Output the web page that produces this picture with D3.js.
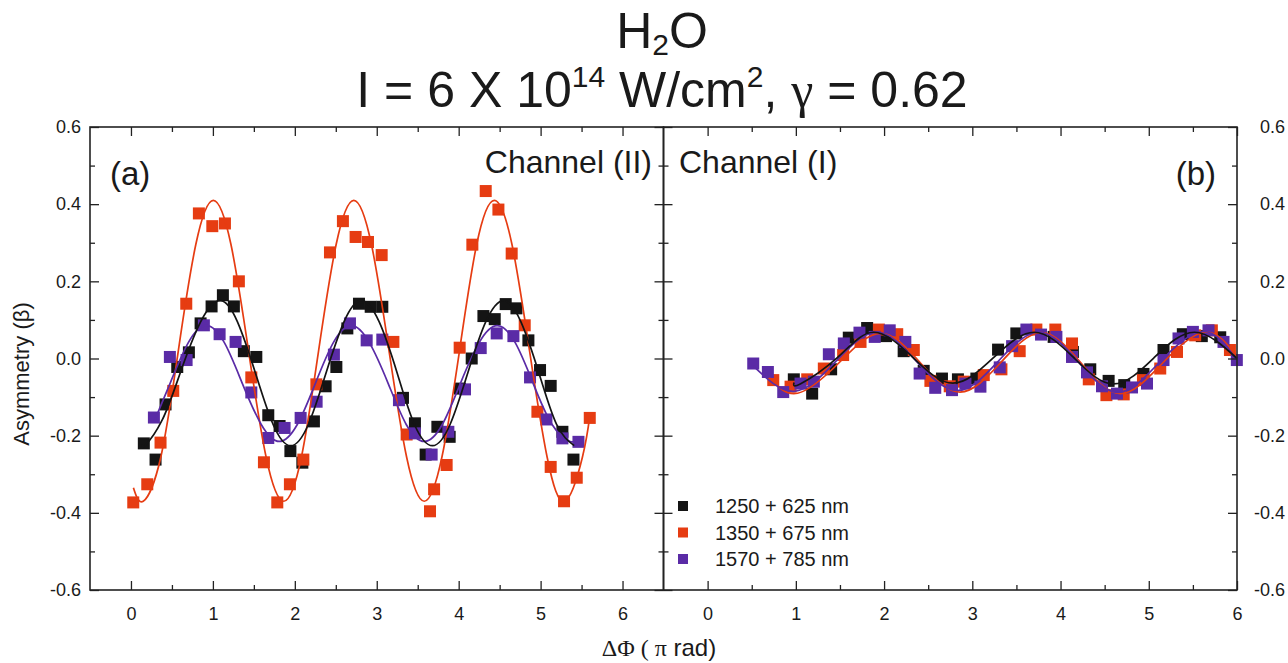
<!DOCTYPE html>
<html><head><meta charset="utf-8">
<script src="https://cdn.jsdelivr.net/npm/d3@7"></script>
<style>
body{margin:0;background:#fff}
svg{display:block}
text{font-family:"Liberation Sans",Arial,sans-serif;fill:#1a1a1a}
</style>
</head><body>
<svg id="c" width="1288" height="663"></svg>
<script>
// ---------- tick values ----------
const yMajor = [-0.6,-0.4,-0.2,0.0,0.2,0.4,0.6];
const yMinor = [-0.5,-0.3,-0.1,0.1,0.3,0.5];
const xMajor = [0,1,2,3,4,5,6];
const xMinor = [0.5,1.5,2.5,3.5,4.5,5.5];

// ---------- series names / colours ----------
const seriesNames = ["1250 + 625 nm","1350 + 675 nm","1570 + 785 nm"];
const seriesColors = ["#141414","#e63c12","#5a2ba6"];

// ---------- panel (a) Channel (II) : data ----------
const aBlackX = [0.157,0.300,0.422,0.565,0.707,0.850,0.984,1.122,1.256,1.378,1.530,1.676,1.814,1.946,2.092,2.233,2.376,2.507,2.641,2.783,2.926,3.068,3.320,3.466,3.597,3.740,3.890,4.016,4.159,4.302,4.440,4.574,4.705,4.851,4.993,5.123,5.266,5.401];
const aBlackY = [-0.220,-0.262,-0.119,-0.022,0.016,0.091,0.135,0.164,0.135,0.019,0.004,-0.147,-0.175,-0.240,-0.270,-0.163,-0.072,-0.022,0.078,0.142,0.134,0.134,-0.102,-0.168,-0.249,-0.177,-0.203,-0.078,0.000,0.110,0.102,0.141,0.130,0.047,-0.030,-0.071,-0.190,-0.262];
const aRedX = [0.028,0.199,0.361,0.516,0.675,0.829,0.993,1.147,1.317,1.469,1.623,1.786,1.940,2.104,2.263,2.429,2.587,2.742,2.893,3.060,3.203,3.365,3.650,3.700,3.853,4.012,4.167,4.330,4.485,4.647,4.806,4.961,5.123,5.286,5.441,5.600];
const aRedY = [-0.373,-0.326,-0.218,-0.084,0.142,0.376,0.343,0.350,0.200,-0.049,-0.269,-0.373,-0.326,-0.262,-0.067,0.275,0.356,0.315,0.302,0.268,0.043,-0.197,-0.396,-0.339,-0.276,0.028,0.295,0.434,0.386,0.272,0.086,-0.138,-0.281,-0.370,-0.309,-0.154];
const aPurpleX = [0.280,0.475,0.679,0.890,1.082,1.277,1.469,1.676,1.875,2.071,2.266,2.477,2.673,2.877,3.068,3.271,3.466,3.670,3.874,4.077,4.269,4.464,4.668,4.871,5.071,5.266,5.462];
const aPurpleY = [-0.153,0.004,-0.004,0.086,0.063,0.043,-0.088,-0.206,-0.180,-0.154,-0.112,0.010,0.091,0.047,0.049,-0.108,-0.194,-0.249,-0.190,-0.080,0.027,0.065,0.058,-0.049,-0.158,-0.207,-0.216];

// ---------- panel (a) : fitted curves ----------
const aBlackFitX = [0.14,0.17,0.38,0.60,0.85,1.09,1.30,1.52,1.735,1.95,2.165,2.38,2.60,2.81,3.03,3.25,3.46,3.68,3.895,4.11,4.33,4.55,4.76,4.98,5.195,5.41];
const aBlackFitY = [-0.222,-0.226,-0.160,-0.038,0.095,0.150,0.095,-0.038,-0.171,-0.226,-0.171,-0.038,0.095,0.150,0.095,-0.038,-0.171,-0.226,-0.171,-0.038,0.095,0.150,0.095,-0.038,-0.171,-0.226];
const aRedFitX = [0.03,0.15,0.364,0.578,0.792,1.005,1.22,1.435,1.65,1.865,2.08,2.29,2.505,2.72,2.935,3.15,3.365,3.58,3.795,4.01,4.22,4.435,4.65,4.865,5.08,5.295,5.51,5.60];
const aRedFitY = [-0.335,-0.370,-0.256,0.020,0.296,0.410,0.296,0.020,-0.256,-0.370,-0.256,0.020,0.296,0.410,0.296,0.020,-0.256,-0.370,-0.256,0.020,0.296,0.410,0.296,0.020,-0.256,-0.370,-0.256,-0.150];
const aPurpleFitX = [0.28,0.48,0.70,0.92,1.14,1.36,1.59,1.81,2.03,2.25,2.47,2.69,2.91,3.14,3.36,3.58,3.80,4.02,4.25,4.47,4.69,4.91,5.14,5.36,5.46];
const aPurpleFitY = [-0.165,-0.063,0.041,0.085,0.041,-0.065,-0.171,-0.215,-0.171,-0.065,0.041,0.085,0.041,-0.065,-0.171,-0.215,-0.171,-0.065,0.041,0.085,0.041,-0.065,-0.171,-0.215,-0.208];

// ---------- panel (b) Channel (I) : data ----------
const bBlackX = [0.977,1.185,1.400,1.600,1.808,2.023,2.222,2.449,2.656,2.837,3.046,3.292,3.499,3.922,4.140,4.337,4.545,4.722,4.940,5.167,5.386,5.601,5.810];
const bBlackY = [-0.054,-0.091,-0.028,0.054,0.079,0.058,0.019,-0.032,-0.052,-0.054,-0.052,0.023,0.065,0.056,0.017,-0.028,-0.058,-0.069,-0.040,0.022,0.063,0.058,0.055];
const bRedX = [0.744,0.940,1.129,1.317,1.536,1.733,1.941,2.149,2.337,2.525,2.744,2.903,3.130,3.330,3.537,3.726,3.941,4.130,4.320,4.520,4.716,4.934,5.130,5.320,5.526,5.715,5.920];
const bRedY = [-0.056,-0.073,-0.054,-0.026,0.009,0.043,0.075,0.063,0.022,-0.058,-0.072,-0.060,-0.043,-0.028,0.019,0.075,0.075,0.039,-0.054,-0.095,-0.093,-0.056,-0.026,0.017,0.060,0.073,0.022];
const bPurpleX = [0.517,0.683,0.857,1.053,1.204,1.374,1.544,1.721,1.894,2.064,2.241,2.403,2.580,2.770,2.922,3.092,3.311,3.451,3.613,3.779,3.953,4.130,4.300,4.470,4.640,4.810,4.980,5.167,5.337,5.500,5.677,5.847,5.998];
const bPurpleY = [-0.013,-0.035,-0.087,-0.065,-0.060,0.011,0.039,0.067,0.056,0.073,0.043,-0.039,-0.076,-0.082,-0.065,-0.073,-0.023,0.032,0.075,0.062,0.056,0.004,-0.036,-0.072,-0.091,-0.075,-0.065,-0.004,0.052,0.069,0.073,0.043,-0.004];

// ---------- panel (b) : fitted curves ----------
const bBlackFitX = [0.98,1.05,1.47,1.88,2.33,2.78,3.24,3.70,4.15,4.60,5.06,5.52,6.00];
const bBlackFitY = [-0.062,-0.066,0.002,0.068,0.002,-0.064,0.002,0.068,0.002,-0.066,0.002,0.068,0.000];
const bRedFitX = [0.70,1.02,1.49,1.96,2.41,2.86,3.32,3.78,4.23,4.68,5.16,5.64,6.00];
const bRedFitY = [-0.050,-0.090,-0.011,0.065,-0.011,-0.087,-0.011,0.067,-0.011,-0.091,-0.011,0.068,0.005];
const bPurpleFitX = [0.52,0.98,1.45,1.92,2.37,2.83,3.29,3.75,4.20,4.65,5.13,5.62,6.00];
const bPurpleFitY = [-0.020,-0.085,-0.008,0.068,-0.008,-0.083,-0.008,0.068,-0.008,-0.088,-0.008,0.070,-0.005];

// ---------- build ----------
const zip = (xs, ys) => xs.map((v, i) => [v, ys[i]]);
const panelA = {
  pts: [zip(aBlackX,aBlackY), zip(aRedX,aRedY), zip(aPurpleX,aPurpleY)],
  fits: [zip(aBlackFitX,aBlackFitY), zip(aRedFitX,aRedFitY), zip(aPurpleFitX,aPurpleFitY)]
};
const panelB = {
  pts: [zip(bBlackX,bBlackY), zip(bRedX,bRedY), zip(bPurpleX,bPurpleY)],
  fits: [zip(bBlackFitX,bBlackFitY), zip(bRedFitX,bRedFitY), zip(bPurpleFitX,bPurpleFitY)]
};

const svg = d3.select('#c');
const TOP = 127, BOT = 590, XL = 90, XM = 663.5, XR = 1237;
const y = d3.scaleLinear().domain([-0.6,0.6]).range([BOT,TOP]);
const xA = d3.scaleLinear().domain([-0.5,6.5]).range([XL,XM]);
const xB = d3.scaleLinear().domain([-0.5,6]).range([XM,XR]);
const fmtY = d => d.toFixed(1);
const AX = '#222';

function styleAxis(g){
  g.select('.domain').remove();
  g.selectAll('.tick line').attr('stroke',AX).attr('stroke-width',1.3);
  g.selectAll('.tick text').attr('font-size',18).attr('fill','#222')
    .attr('font-family','"Liberation Sans",Arial,sans-serif');
}

function drawAxes(x, side){
  svg.append('g').attr('transform',`translate(0,${BOT})`)
    .call(d3.axisBottom(x).tickValues(xMajor).tickSize(-9).tickPadding(17).tickFormat(d3.format('d'))).call(styleAxis);
  svg.append('g').attr('transform',`translate(0,${BOT})`)
    .call(d3.axisBottom(x).tickValues(xMinor).tickSize(-5).tickFormat('')).call(styleAxis);
  svg.append('g').attr('transform',`translate(0,${TOP})`)
    .call(d3.axisTop(x).tickValues(xMajor).tickSize(-9).tickFormat('')).call(styleAxis);
  svg.append('g').attr('transform',`translate(0,${TOP})`)
    .call(d3.axisTop(x).tickValues(xMinor).tickSize(-5).tickFormat('')).call(styleAxis);
  const [x0,x1] = x.range();
  svg.append('g').attr('transform',`translate(${x0},0)`)
    .call(d3.axisLeft(y).tickValues(yMajor).tickSize(-9).tickPadding(9).tickFormat(side==='a'?fmtY:'')).call(styleAxis);
  svg.append('g').attr('transform',`translate(${x0},0)`)
    .call(d3.axisLeft(y).tickValues(yMinor).tickSize(-5).tickFormat('')).call(styleAxis);
  const gr = svg.append('g').attr('transform',`translate(${x1},0)`)
    .call(d3.axisRight(y).tickValues(yMajor).tickSize(-9).tickPadding(9).tickFormat(side==='b'?fmtY:'')).call(styleAxis);
  svg.append('g').attr('transform',`translate(${x1},0)`)
    .call(d3.axisRight(y).tickValues(yMinor).tickSize(-5).tickFormat('')).call(styleAxis);
  if (side==='b') gr.selectAll('.tick text').attr('text-anchor','end').attr('x',1285-XR);
  svg.append('rect').attr('x',x0).attr('y',TOP).attr('width',x1-x0).attr('height',BOT-TOP)
    .attr('fill','none').attr('stroke',AX).attr('stroke-width',1.6);
}

function drawPanel(x, panel){
  const g = svg.append('g');
  const line = d3.line().x(d=>x(d[0])).y(d=>y(d[1])).curve(d3.curveNatural);
  const S = 12;
  panel.pts.forEach((pts,i)=>{
    g.append('g').selectAll('rect').data(pts).join('rect')
      .attr('x',d=>x(d[0])-S/2).attr('y',d=>y(d[1])-S/2)
      .attr('width',S).attr('height',S).attr('fill',seriesColors[i]);
  });
  [1,2,0].forEach(i=>{
    g.append('path').datum(panel.fits[i]).attr('d',line)
      .attr('fill','none').attr('stroke',seriesColors[i]).attr('stroke-width',1.7);
  });
}

drawPanel(xA, panelA);
drawPanel(xB, panelB);
drawAxes(xA,'a');
drawAxes(xB,'b');

// panel labels
svg.append('text').attr('x',110).attr('y',185).attr('font-size',33).text('(a)');
svg.append('text').attr('x',652).attr('y',173).attr('font-size',32).attr('text-anchor','end').text('Channel (II)');
svg.append('text').attr('x',679).attr('y',173).attr('font-size',32).text('Channel (I)');
svg.append('text').attr('x',1216).attr('y',185).attr('font-size',33).attr('text-anchor','end').text('(b)');

// legend
const leg = svg.append('g');
seriesNames.forEach((n,i)=>{
  const cy = 506 + i*26.5;
  leg.append('rect').attr('x',678).attr('y',cy-5).attr('width',10).attr('height',10).attr('fill',seriesColors[i]);
  leg.append('text').attr('x',715).attr('y',cy).attr('dy','0.35em').attr('font-size',20).text(n);
});

// axis titles
svg.append('text').attr('transform','translate(29,374) rotate(-90)').attr('text-anchor','middle')
  .attr('font-size',22).text('Asymmetry (β)');
const xt = svg.append('text').attr('x',659).attr('y',656).attr('text-anchor','middle').attr('font-size',24);
xt.append('tspan').attr('font-family','"Liberation Serif","Times New Roman",serif').text('ΔΦ ( π');
xt.append('tspan').text(' rad)');

// title
const t1 = svg.append('text').attr('x',662).attr('y',48).attr('text-anchor','middle').attr('font-size',50);
t1.append('tspan').text('H');
t1.append('tspan').attr('font-size',30).attr('dy',7).text('2');
t1.append('tspan').attr('dy',-7).text('O');
const t2 = svg.append('text').attr('x',662).attr('y',107).attr('text-anchor','middle').attr('font-size',50);
t2.append('tspan').text('I = 6 X 10');
t2.append('tspan').attr('font-size',30).attr('dy',-20).text('14');
t2.append('tspan').attr('dy',20).text(' W/cm');
t2.append('tspan').attr('font-size',30).attr('dy',-20).text('2');
t2.append('tspan').attr('dy',20).text(', ');
t2.append('tspan').attr('font-family','"Liberation Serif","Times New Roman",serif').text('γ');
t2.append('tspan').text(' = 0.62');
</script>
</body></html>
